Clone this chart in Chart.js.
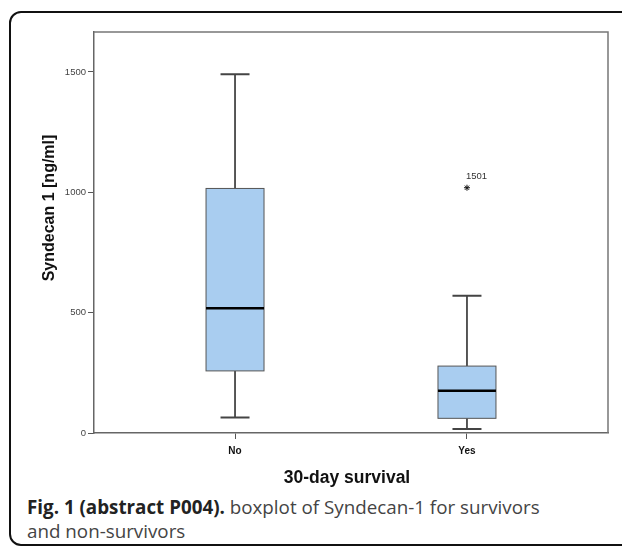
<!DOCTYPE html>
<html>
<head>
<meta charset="utf-8">
<script src="https://cdn.jsdelivr.net/npm/chart.js@4.4.0/dist/chart.umd.min.js"></script>
<style>
  html, body { margin: 0; padding: 0; background: #fff; }
  body { width: 622px; height: 547px; position: relative; overflow: hidden; }
  #frame { position: absolute; left: 9px; top: 11px; width: 700px; height: 531px;
           border: 2px solid #111; border-radius: 12px; }
  #wrap { position: absolute; left: 0; top: 0; width: 622px; height: 490px; }
  #caption { position: absolute; left: 27px; top: 495px; width: 525px;
             font-family: "Open Sans", sans-serif; font-size: 18.8px; line-height: 24px; color: #444; }
  #caption b { color: #222; }
</style>
</head>
<body>
<div id="frame"></div>
<div id="wrap"><canvas id="chart" width="622" height="490"></canvas></div>
<div id="caption"><b>Fig. 1 (abstract P004).</b> boxplot of Syndecan-1 for survivors and non-survivors</div>
<script>
// five-number summaries per group
const categories = ['No', 'Yes'];
const whiskerLow = [64, 17];
const q1 = [258, 61];
const median = [518, 176];
const q3 = [1016, 278];
const whiskerHigh = [1490, 570];

// extreme values (case number shown next to the star)
const outlierGroup = ['Yes'];
const outlierValue = [1019];
const outlierCase = ['1501'];

const yTicks = [0, 500, 1000, 1500];

const boxWidth = 0.25;
const capWidth = 0.125;

const boxPlugin = {
  id: 'boxes',
  beforeDatasetsDraw(chart) {
    const ctx = chart.ctx;
    const x = chart.scales.x, y = chart.scales.y;
    const area = chart.chartArea;

    // frame around the plot
    ctx.save();
    ctx.strokeStyle = '#777';
    ctx.lineWidth = 1.5;
    ctx.beginPath();
    ctx.moveTo(area.left, area.top);
    ctx.lineTo(area.right, area.top);
    ctx.lineTo(area.right, area.bottom);
    ctx.stroke();
    ctx.restore();

    categories.forEach((cat, i) => {
      const cx = x.getPixelForValue(i + 1);
      const bl = x.getPixelForValue(i + 1 - boxWidth / 2);
      const br = x.getPixelForValue(i + 1 + boxWidth / 2);
      const cl = x.getPixelForValue(i + 1 - capWidth / 2);
      const cr = x.getPixelForValue(i + 1 + capWidth / 2);
      const yLo = y.getPixelForValue(whiskerLow[i]);
      const yQ1 = y.getPixelForValue(q1[i]);
      const yMed = y.getPixelForValue(median[i]);
      const yQ3 = y.getPixelForValue(q3[i]);
      const yHi = y.getPixelForValue(whiskerHigh[i]);

      ctx.save();
      // whiskers
      ctx.strokeStyle = '#222';
      ctx.lineWidth = 1.5;
      ctx.beginPath();
      ctx.moveTo(cx, yLo); ctx.lineTo(cx, yQ1);
      ctx.moveTo(cx, yQ3); ctx.lineTo(cx, yHi);
      ctx.stroke();
      // caps
      ctx.strokeStyle = '#444';
      ctx.lineWidth = 2;
      ctx.beginPath();
      ctx.moveTo(cl, yLo); ctx.lineTo(cr, yLo);
      ctx.moveTo(cl, yHi); ctx.lineTo(cr, yHi);
      ctx.stroke();
      // box
      ctx.fillStyle = '#a9cdf0';
      ctx.fillRect(bl, yQ3, br - bl, yQ1 - yQ3);
      ctx.strokeStyle = '#555';
      ctx.lineWidth = 1;
      ctx.strokeRect(bl, yQ3, br - bl, yQ1 - yQ3);
      // median
      ctx.strokeStyle = '#000';
      ctx.lineWidth = 2.5;
      ctx.beginPath();
      ctx.moveTo(bl, yMed); ctx.lineTo(br, yMed);
      ctx.stroke();
      ctx.restore();
    });
  },
  afterDatasetsDraw(chart) {
    const ctx = chart.ctx;
    const x = chart.scales.x, y = chart.scales.y;
    const area = chart.chartArea;
    ctx.save();
    // case labels for extremes
    ctx.font = '9.5px "Liberation Sans", Arial, sans-serif';
    ctx.fillStyle = '#333';
    ctx.textBaseline = 'middle';
    outlierValue.forEach((v, k) => {
      const px = x.getPixelForValue(categories.indexOf(outlierGroup[k]) + 1);
      const py = y.getPixelForValue(v);
      ctx.fillText(outlierCase[k], px - 1, py - 11);
    });
    // axis titles
    ctx.fillStyle = '#111';
    ctx.font = 'bold 17.5px "Liberation Sans", Arial, sans-serif';
    ctx.textAlign = 'center';
    ctx.textBaseline = 'middle';
    ctx.fillText('30-day survival', (area.left + area.right) / 2 - 4, area.bottom + 45);
    ctx.font = 'bold 16px "Liberation Sans", Arial, sans-serif';
    ctx.translate(50, 208);
    ctx.rotate(-Math.PI / 2);
    ctx.fillText('Syndecan 1 [ng/ml]', 0, 0);
    ctx.restore();
  }
};

new Chart(document.getElementById('chart'), {
  type: 'scatter',
  data: {
    datasets: [{
      label: 'Extremes',
      data: outlierValue.map((v, k) => ({ x: categories.indexOf(outlierGroup[k]) + 1, y: v })),
      pointStyle: 'star',
      radius: 3,
      borderColor: '#111',
      borderWidth: 1
    }]
  },
  options: {
    responsive: false,
    animation: false,
    layout: { padding: { top: 32, right: 14, left: 0, bottom: 0 } },
    plugins: { legend: { display: false }, tooltip: { enabled: false } },
    scales: {
      x: {
        type: 'linear',
        min: 0.392,
        max: 2.608,
        afterFit(scale) { scale.height = 57; },
        afterBuildTicks(scale) { scale.ticks = categories.map((c, i) => ({ value: i + 1 })); },
        ticks: {
          callback: (v) => categories[v - 1],
          font: { family: '"Liberation Sans", Arial, sans-serif', size: 10, weight: 'bold' },
          color: '#111',
          padding: 6,
          maxRotation: 0
        },
        grid: { drawOnChartArea: false, tickLength: 6, color: '#555', lineWidth: 1 },
        border: { color: '#666', width: 1.5 }
      },
      y: {
        min: 0,
        max: 1666,
        afterFit(scale) { scale.width = 94; },
        afterBuildTicks(scale) { scale.ticks = yTicks.map(v => ({ value: v })); },
        ticks: {
          callback: (v) => String(v),
          font: { family: '"Liberation Sans", Arial, sans-serif', size: 9.5 },
          color: '#444',
          padding: 2
        },
        grid: { drawOnChartArea: false, tickLength: 6, color: '#555', lineWidth: 1 },
        border: { color: '#666', width: 1.5 }
      }
    }
  },
  plugins: [boxPlugin]
});
</script>
</body>
</html>
